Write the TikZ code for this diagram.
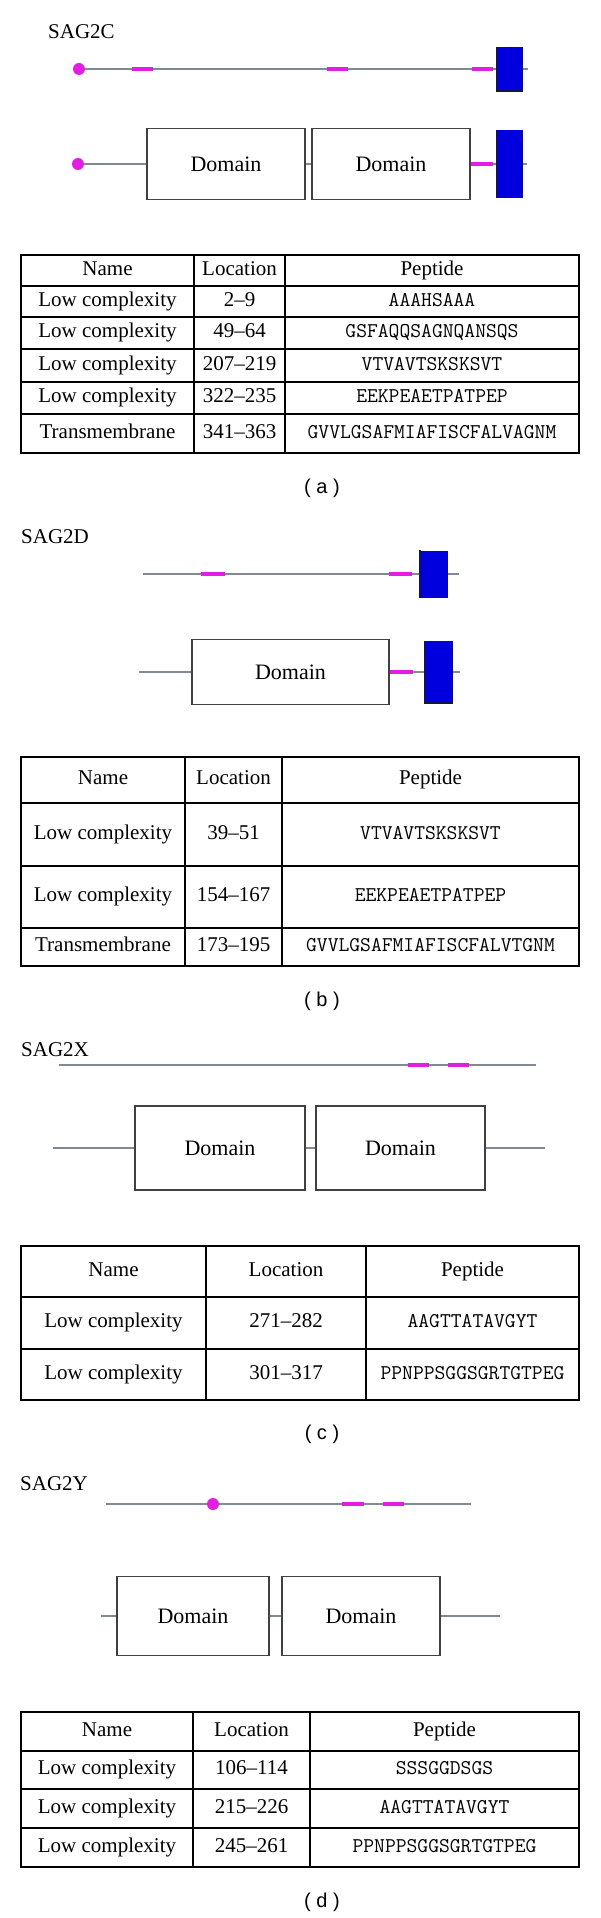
\documentclass[tikz,border=0pt]{standalone}
\usepackage{fontspec}
\setmainfont{Liberation Serif}
\setsansfont{Liberation Sans}
\definecolor{linegrey}{RGB}{128,138,148}
\definecolor{lcmag}{RGB}{225,30,225}
\definecolor{tmblue}{RGB}{0,0,222}
\definecolor{tmdark}{RGB}{20,20,70}
\begin{document}
\begin{tikzpicture}[x=1pt,y=-1pt,
   chain/.style={draw=linegrey,line width=2pt},
   lowc/.style={draw=lcmag,line width=3.5pt},
   site/.style={circle,fill=lcmag,inner sep=0pt,minimum size=12pt},
   dombox/.style={draw=black!75,line width=1.5pt,inner sep=0pt,font=\fontsize{22}{26}\selectfont},
   tmbox/.style={fill=tmblue,inner sep=0pt,minimum width=26pt},
   tmedge/.style={draw=tmdark,line width=1.5pt},
   gene/.style={anchor=base west,inner sep=0pt,font=\fontsize{21}{25}\selectfont},
   cell/.style={inner sep=0pt,text height=14pt,text depth=5pt,font=\fontsize{21}{25}\selectfont},
   pep/.style={cell,font=\fontsize{21}{25}\selectfont\ttfamily},
   tabrule/.style={line width=1.5pt},
   subcap/.style={inner sep=0pt,font=\sffamily\fontsize{20}{24}\selectfont}]
   \useasboundingbox (0,0) rectangle (600,1918);

   % ---------------- SAG2C
   \node[gene] (gC) at (48,39) {SAG2C};
   % upper chain
   \node[site] (sC1) at (79,69) {};
   \node[tmbox,minimum height=44pt] (tC1) at (510,69) {};
   \coordinate (eC1) at (528,69);
   \draw[chain] (sC1) -- (tC1.west);
   \draw[chain] (tC1.east) -- (eC1);
   \draw[lowc] (132,69) -- (153,69) (327,69) -- (348,69) (472,69) -- (493,69);
   \draw[tmedge] (tC1.north west) -- (tC1.south west) -- (tC1.south east);
   % lower chain
   \node[site] (sC2) at (78,164) {};
   \node[dombox,minimum width=158pt,minimum height=71pt] (dC1) at (226,164) {Domain};
   \node[dombox,minimum width=158pt,minimum height=71pt] (dC2) at (391,164) {Domain};
   \node[tmbox,minimum height=67pt] (tC2) at (510,164) {};
   \coordinate (eC2) at (527,164);
   \draw[chain] (sC2) -- (dC1) -- (dC2) -- (tC2);
   \draw[chain] (tC2.east) -- (eC2);
   \draw[lowc] (dC2.east) -- (493,164);
   \draw[tmedge] (tC2.north west) -- (tC2.south west) -- (tC2.south east);
   % table
   \draw[tabrule] (21,255) rectangle (579,453);
   \foreach \y in {286,317,349,382,414} \draw[tabrule] (21,\y) -- (579,\y);
   \foreach \x in {194,285} \draw[tabrule] (\x,255) -- (\x,453);
   \node[cell] (aN0) at (107.5,270.5) {Name};
   \node[cell] (aL0) at (239.5,270.5) {Location};
   \node[cell] (aP0) at (432,270.5) {Peptide};
   \foreach \y/\nm/\loc/\pep [count=\i] in {301.5/Low complexity/2--9/AAAHSAAA,
      333/Low complexity/49--64/GSFAQQSAGNQANSQS,
      365.5/Low complexity/207--219/VTVAVTSKSKSVT,
      398/Low complexity/322--235/EEKPEAETPATPEP,
      433.5/Transmembrane/341--363/GVVLGSAFMIAFISCFALVAGNM}
   {
      \node[cell] (aN\i) at (107.5,\y) {\nm};
      \node[cell] (aL\i) at (239.5,\y) {\loc};
      \node[pep]  (aP\i) at (432,\y) {\pep};
   }
   \node[subcap] (capA) at (322,488) {( a )};

   % ---------------- SAG2D
   \node[gene] (gD) at (21,543) {SAG2D};
   % upper chain
   \coordinate (bD1) at (143,574);
   \node[tmbox,minimum width=28pt,minimum height=47pt] (tD1) at (434,574) {};
   \coordinate (eD1) at (459,574);
   \draw[chain] (bD1) -- (tD1.west);
   \draw[chain] (tD1.east) -- (eD1);
   \draw[lowc] (201,574) -- (225,574) (389,574) -- (412,574);
   \draw[tmedge] (tD1.north west) -- (tD1.south west) -- (tD1.south east);
   % lower chain
   \coordinate (bD2) at (139,672);
   \node[dombox,minimum width=197pt,minimum height=65pt] (dD1) at (290.5,672) {Domain};
   \node[tmbox,minimum width=28pt,minimum height=62pt] (tD2) at (439,672) {};
   \coordinate (eD2) at (460,672);
   \draw[chain] (bD2) -- (dD1) -- (tD2);
   \draw[chain] (tD2.east) -- (eD2);
   \draw[lowc] (dD1.east) -- (413,672);
   \draw[tmedge] (tD2.north west) -- (tD2.south west) -- (tD2.south east);
   % table
   \draw[tabrule] (21,757) rectangle (579,966);
   \foreach \y in {803,866,928} \draw[tabrule] (21,\y) -- (579,\y);
   \foreach \x in {185,282} \draw[tabrule] (\x,757) -- (\x,966);
   \node[cell] (bN0) at (103,780) {Name};
   \node[cell] (bL0) at (233.5,780) {Location};
   \node[cell] (bP0) at (430.5,780) {Peptide};
   \foreach \y/\nm/\loc/\pep [count=\i] in {834.5/Low complexity/39--51/VTVAVTSKSKSVT,
      897/Low complexity/154--167/EEKPEAETPATPEP,
      947/Transmembrane/173--195/GVVLGSAFMIAFISCFALVTGNM}
   {
      \node[cell] (bN\i) at (103,\y) {\nm};
      \node[cell] (bL\i) at (233.5,\y) {\loc};
      \node[pep]  (bP\i) at (430.5,\y) {\pep};
   }
   \node[subcap] (capB) at (322,1001) {( b )};

   % ---------------- SAG2X
   \node[gene] (gX) at (21,1056) {SAG2X};
   % upper chain
   \coordinate (bX1) at (59,1065);
   \coordinate (eX1) at (536,1065);
   \draw[chain] (bX1) -- (eX1);
   \draw[lowc] (408,1065) -- (429,1065) (448,1065) -- (469,1065);
   % lower chain
   \coordinate (bX2) at (53,1148);
   \node[dombox,minimum width=170pt,minimum height=84pt] (dX1) at (220,1148) {Domain};
   \node[dombox,minimum width=169pt,minimum height=84pt] (dX2) at (400.5,1148) {Domain};
   \coordinate (eX2) at (545,1148);
   \draw[chain] (bX2) -- (dX1) -- (dX2) -- (eX2);
   % table
   \draw[tabrule] (21,1246) rectangle (579,1400);
   \foreach \y in {1297,1349} \draw[tabrule] (21,\y) -- (579,\y);
   \foreach \x in {206,366} \draw[tabrule] (\x,1246) -- (\x,1400);
   \node[cell] (cN0) at (113.5,1271.5) {Name};
   \node[cell] (cL0) at (286,1271.5) {Location};
   \node[cell] (cP0) at (472.5,1271.5) {Peptide};
   \foreach \y/\nm/\loc/\pep [count=\i] in {1323/Low complexity/271--282/AAGTTATAVGYT,
      1374.5/Low complexity/301--317/PPNPPSGGSGRTGTPEG}
   {
      \node[cell] (cN\i) at (113.5,\y) {\nm};
      \node[cell] (cL\i) at (286,\y) {\loc};
      \node[pep]  (cP\i) at (472.5,\y) {\pep};
   }
   \node[subcap] (capC) at (322,1434) {( c )};

   % ---------------- SAG2Y
   \node[gene] (gY) at (20,1490) {SAG2Y};
   % upper chain
   \coordinate (bY1) at (106,1504);
   \node[site] (sY1) at (213,1504) {};
   \coordinate (eY1) at (471,1504);
   \draw[chain] (bY1) -- (sY1) -- (eY1);
   \draw[lowc] (342,1504) -- (364,1504) (383,1504) -- (404,1504);
   % lower chain
   \coordinate (bY2) at (101,1616);
   \node[dombox,minimum width=152pt,minimum height=79pt] (dY1) at (193,1616) {Domain};
   \node[dombox,minimum width=158pt,minimum height=79pt] (dY2) at (361,1616) {Domain};
   \coordinate (eY2) at (500,1616);
   \draw[chain] (bY2) -- (dY1) -- (dY2) -- (eY2);
   % table
   \draw[tabrule] (21,1712) rectangle (579,1867);
   \foreach \y in {1751,1789,1828} \draw[tabrule] (21,\y) -- (579,\y);
   \foreach \x in {193,310} \draw[tabrule] (\x,1712) -- (\x,1867);
   \node[cell] (dN0) at (107,1731.5) {Name};
   \node[cell] (dL0) at (251.5,1731.5) {Location};
   \node[cell] (dP0) at (444.5,1731.5) {Peptide};
   \foreach \y/\nm/\loc/\pep [count=\i] in {1770/Low complexity/106--114/SSSGGDSGS,
      1808.5/Low complexity/215--226/AAGTTATAVGYT,
      1847.5/Low complexity/245--261/PPNPPSGGSGRTGTPEG}
   {
      \node[cell] (dN\i) at (107,\y) {\nm};
      \node[cell] (dL\i) at (251.5,\y) {\loc};
      \node[pep]  (dP\i) at (444.5,\y) {\pep};
   }
   \node[subcap] (capD) at (322,1902) {( d )};
\end{tikzpicture}
\end{document}
